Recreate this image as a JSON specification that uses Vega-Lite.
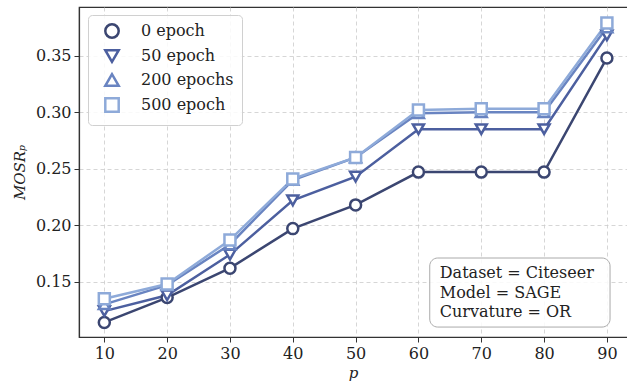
{
  "$schema": "https://vega.github.io/schema/vega-lite/v6.json",
  "width": 548,
  "height": 330,
  "autosize": "none",
  "padding": {"left": 79, "top": 7, "right": 0, "bottom": 46},
  "background": "white",
  "config": {
    "view": {"stroke": "#333333", "strokeWidth": 1.2, "strokeDash": [548, 330, 878, 0]},
    "font": "DejaVu Serif",
    "axis": {
      "labelFont": "DejaVu Serif",
      "labelFontSize": 16,
      "labelColor": "#222",
      "titleFont": "DejaVu Serif",
      "titleFontStyle": "italic",
      "titleFontWeight": "normal",
      "titleFontSize": 15,
      "titleColor": "#222",
      "domainColor": "#333",
      "domainWidth": 1.2,
      "tickColor": "#333",
      "tickSize": 5,
      "tickWidth": 1,
      "labelPadding": 3,
      "gridColor": "#cccccc",
      "gridDash": [4, 3],
      "gridWidth": 0.8
    },
    "legend": {
      "title": null, "orient": "none", "legendX": 9, "legendY": 8,
      "labelFont": "DejaVu Serif", "labelFontSize": 16, "labelColor": "#222",
      "fillColor": "rgba(255,255,255,0.85)", "strokeColor": "#d0d0d0", "cornerRadius": 4,
      "padding": 8, "rowPadding": 2, "symbolOffset": 8, "labelOffset": 21,
      "symbolSize": 180, "symbolStrokeWidth": 2.5, "symbolFillColor": "white"
    }
  },
  "data": {
    "values": [
      {"series": "0 epoch", "p": 10, "MOSR": 0.114},
      {"series": "0 epoch", "p": 20, "MOSR": 0.136},
      {"series": "0 epoch", "p": 30, "MOSR": 0.162},
      {"series": "0 epoch", "p": 40, "MOSR": 0.197},
      {"series": "0 epoch", "p": 50, "MOSR": 0.218},
      {"series": "0 epoch", "p": 60, "MOSR": 0.247},
      {"series": "0 epoch", "p": 70, "MOSR": 0.247},
      {"series": "0 epoch", "p": 80, "MOSR": 0.247},
      {"series": "0 epoch", "p": 90, "MOSR": 0.348},
      {"series": "50 epoch", "p": 10, "MOSR": 0.124},
      {"series": "50 epoch", "p": 20, "MOSR": 0.138},
      {"series": "50 epoch", "p": 30, "MOSR": 0.174},
      {"series": "50 epoch", "p": 40, "MOSR": 0.222},
      {"series": "50 epoch", "p": 50, "MOSR": 0.243},
      {"series": "50 epoch", "p": 60, "MOSR": 0.285},
      {"series": "50 epoch", "p": 70, "MOSR": 0.285},
      {"series": "50 epoch", "p": 80, "MOSR": 0.285},
      {"series": "50 epoch", "p": 90, "MOSR": 0.368},
      {"series": "200 epochs", "p": 10, "MOSR": 0.130},
      {"series": "200 epochs", "p": 20, "MOSR": 0.147},
      {"series": "200 epochs", "p": 30, "MOSR": 0.183},
      {"series": "200 epochs", "p": 40, "MOSR": 0.240},
      {"series": "200 epochs", "p": 50, "MOSR": 0.260},
      {"series": "200 epochs", "p": 60, "MOSR": 0.299},
      {"series": "200 epochs", "p": 70, "MOSR": 0.300},
      {"series": "200 epochs", "p": 80, "MOSR": 0.300},
      {"series": "200 epochs", "p": 90, "MOSR": 0.375},
      {"series": "500 epoch", "p": 10, "MOSR": 0.135},
      {"series": "500 epoch", "p": 20, "MOSR": 0.148},
      {"series": "500 epoch", "p": 30, "MOSR": 0.187},
      {"series": "500 epoch", "p": 40, "MOSR": 0.241},
      {"series": "500 epoch", "p": 50, "MOSR": 0.260},
      {"series": "500 epoch", "p": 60, "MOSR": 0.302},
      {"series": "500 epoch", "p": 70, "MOSR": 0.303},
      {"series": "500 epoch", "p": 80, "MOSR": 0.303},
      {"series": "500 epoch", "p": 90, "MOSR": 0.379}
    ]
  },
  "encoding": {
    "x": {
      "field": "p", "type": "quantitative",
      "scale": {"domain": [5.97, 93.2], "nice": false, "zero": false},
      "axis": {"values": [10, 20, 30, 40, 50, 60, 70, 80, 90], "title": "p", "titlePadding": 4, "grid": true}
    },
    "y": {
      "field": "MOSR", "type": "quantitative",
      "scale": {"domain": [0.1011, 0.3931], "nice": false, "zero": false},
      "axis": {"values": [0.15, 0.2, 0.25, 0.3, 0.35], "format": ".2f", "title": "MOSRₚ", "titlePadding": 8, "grid": true}
    }
  },
  "layer": [
    {
      "mark": {"type": "line", "strokeWidth": 2.5},
      "encoding": {
        "stroke": {
          "field": "series", "type": "nominal",
          "scale": {"domain": ["0 epoch", "50 epoch", "200 epochs", "500 epoch"], "range": ["#3b4671", "#4c5f9f", "#6984c1", "#8eaad9"]}
        },
        "order": {"field": "p"}
      }
    },
    {
      "mark": {"type": "point", "filled": true, "fill": "white", "strokeWidth": 2.5, "size": 121, "opacity": 1},
      "encoding": {
        "stroke": {"field": "series", "type": "nominal"},
        "shape": {
          "field": "series", "type": "nominal",
          "scale": {"domain": ["0 epoch", "50 epoch", "200 epochs", "500 epoch"], "range": ["circle", "triangle-down", "triangle-up", "square"]}
        }
      }
    },
    {
      "transform": [{"filter": "datum.p == 10 && datum.series == '0 epoch'"}],
      "mark": {"type": "rect", "fill": "white", "fillOpacity": 0.85, "stroke": "#aaaaaa", "strokeWidth": 1, "cornerRadius": 8},
      "encoding": {
        "x": {"datum": 61.8}, "x2": {"datum": 90.5},
        "y": {"datum": 0.171}, "y2": {"datum": 0.1099}
      }
    },
    {
      "transform": [{"filter": "datum.p == 10 && datum.series == '0 epoch'"}],
      "mark": {"type": "text", "text": ["Dataset = Citeseer", "Model = SAGE", "Curvature = OR"], "align": "left", "baseline": "middle", "font": "DejaVu Serif", "fontSize": 16, "lineHeight": 19.5, "color": "#222"},
      "encoding": {
        "x": {"datum": 63.4},
        "y": {"datum": 0.1577}
      }
    }
  ]
}
